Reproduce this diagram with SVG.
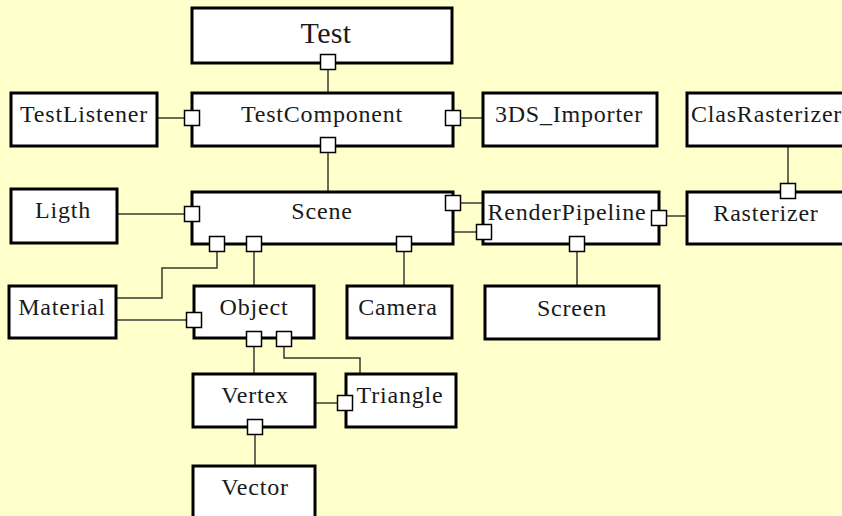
<svg xmlns="http://www.w3.org/2000/svg" width="842" height="516" viewBox="0 0 842 516">
  <style>
    .box { fill: #ffffff; stroke: #000000; stroke-width: 3; }
    .port { fill: #ffffff; stroke: #000000; stroke-width: 1.5; }
    .wire { fill: none; stroke: #3a3a30; stroke-width: 1.5; }
    .label { font-family: "Liberation Serif", "Times New Roman", serif; font-size: 24px; fill: #1a1a1a; text-anchor: middle; letter-spacing: 0.8px; }
    .title { font-size: 30px; letter-spacing: 0.3px; }
  </style>
  <defs>
    <rect id="port" class="port" x="-7.5" y="-7.5" width="15" height="15"/>
  </defs>
  <rect width="842" height="516" fill="#ffffcc"/>

  <!-- connectors -->
  <g id="connectors">
    <path class="wire" d="M328,69 V93"/>
    <path class="wire" d="M157,118 H185"/>
    <path class="wire" d="M461,118 H483"/>
    <path class="wire" d="M328,152 V192"/>
    <path class="wire" d="M117,214 H185"/>
    <path class="wire" d="M460,203 H483"/>
    <path class="wire" d="M453,232 H476"/>
    <path class="wire" d="M667,216 H687"/>
    <path class="wire" d="M788,146 V184"/>
    <path class="wire" d="M577,251 V286"/>
    <path class="wire" d="M116,298 H162 V268 H217 V252"/>
    <path class="wire" d="M116,320 H187"/>
    <path class="wire" d="M254,252 V286"/>
    <path class="wire" d="M404,252 V286"/>
    <path class="wire" d="M254,347 V374"/>
    <path class="wire" d="M284,347 V358 H360 V374"/>
    <path class="wire" d="M315,403 H337"/>
    <path class="wire" d="M255,435 V466"/>
  </g>

  <g id="test">
    <rect class="box" x="192" y="8" width="260" height="55"/>
    <text class="label title" x="326" y="43">Test</text>
    <use href="#port" x="328" y="62"/>
  </g>

  <g id="testcomponent">
    <rect class="box" x="192" y="93" width="261" height="53"/>
    <text class="label" x="322" y="122">TestComponent</text>
    <use href="#port" x="192" y="118"/>
    <use href="#port" x="453" y="118"/>
    <use href="#port" x="328" y="145"/>
  </g>

  <g id="testlistener">
    <rect class="box" x="11" y="93" width="146" height="53"/>
    <text class="label" x="84" y="122">TestListener</text>
  </g>

  <g id="importer">
    <rect class="box" x="483" y="93" width="174" height="53"/>
    <text class="label" x="569" y="122">3DS_Importer</text>
  </g>

  <g id="clasrasterizer">
    <rect class="box" x="687" y="93" width="170" height="53"/>
    <text class="label" x="691" y="122" style="text-anchor:start">ClasRasterizer</text>
  </g>

  <g id="ligth">
    <rect class="box" x="11" y="189" width="106" height="54"/>
    <text class="label" x="63" y="218">Ligth</text>
  </g>

  <g id="scene">
    <rect class="box" x="192" y="192" width="261" height="52"/>
    <text class="label" x="322" y="219">Scene</text>
    <use href="#port" x="192" y="214"/>
    <use href="#port" x="453" y="203"/>
    <use href="#port" x="217" y="244"/>
    <use href="#port" x="254" y="244"/>
    <use href="#port" x="404" y="244"/>
  </g>

  <g id="renderpipeline">
    <rect class="box" x="483" y="192" width="176" height="52"/>
    <text class="label" x="567" y="220">RenderPipeline</text>
    <use href="#port" x="484" y="232"/>
    <use href="#port" x="659" y="218"/>
    <use href="#port" x="577" y="244"/>
  </g>

  <g id="rasterizer">
    <rect class="box" x="687" y="192" width="170" height="52"/>
    <text class="label" x="766" y="221">Rasterizer</text>
    <use href="#port" x="788" y="191"/>
  </g>

  <g id="material">
    <rect class="box" x="9" y="286" width="107" height="52"/>
    <text class="label" x="62" y="315">Material</text>
  </g>

  <g id="object">
    <rect class="box" x="194" y="286" width="120" height="52"/>
    <text class="label" x="254" y="315">Object</text>
    <use href="#port" x="194" y="320"/>
    <use href="#port" x="254" y="339"/>
    <use href="#port" x="284" y="339"/>
  </g>

  <g id="camera">
    <rect class="box" x="347" y="286" width="105" height="52"/>
    <text class="label" x="398" y="315">Camera</text>
  </g>

  <g id="screen">
    <rect class="box" x="485" y="286" width="174" height="53"/>
    <text class="label" x="572" y="316">Screen</text>
  </g>

  <g id="vertex">
    <rect class="box" x="193" y="374" width="122" height="53"/>
    <text class="label" x="255" y="403">Vertex</text>
    <use href="#port" x="255" y="427"/>
  </g>

  <g id="triangle">
    <rect class="box" x="346" y="374" width="110" height="53"/>
    <text class="label" x="400" y="403">Triangle</text>
    <use href="#port" x="345" y="403"/>
  </g>

  <g id="vector">
    <rect class="box" x="193" y="466" width="122" height="60"/>
    <text class="label" x="255" y="495">Vector</text>
  </g>
</svg>
